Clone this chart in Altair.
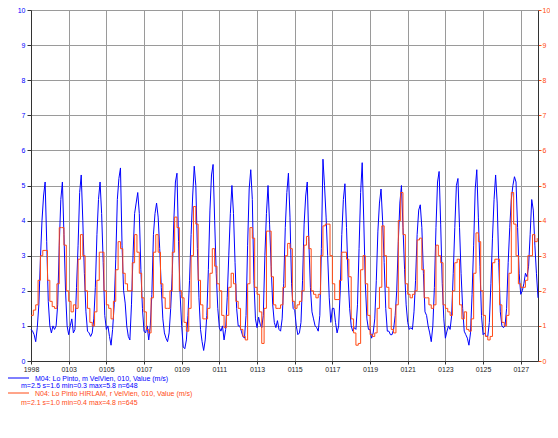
import altair as alt
import pandas as pd

# ---- observed series (blue: 2-hourly, orange: 3-hourly), one list per day ----
BLUE_DAYS = [
    [0.9, 0.85, 0.75, 0.55, 0.95, 1.6, 2.9, 4.0, 4.7, 5.1, 3.4, 1.7],
    [1.0, 0.8, 1.0, 0.9, 1.0, 1.6, 3.3, 4.6, 5.1, 3.6, 2.0, 1.0],
    [0.75, 1.0, 1.2, 0.8, 0.9, 2.1, 3.3, 4.8, 5.3, 4.0, 2.5, 1.4],
    [0.85, 0.8, 0.7, 0.8, 1.2, 2.1, 3.6, 4.6, 5.1, 4.2, 2.8, 1.3],
    [0.9, 1.0, 0.7, 0.45, 0.9, 1.6, 2.9, 4.6, 5.2, 5.5, 3.3, 2.0],
    [1.65, 1.0, 0.7, 0.6, 1.6, 3.0, 4.2, 4.5, 4.8, 4.2, 2.6, 1.5],
    [0.85, 0.8, 1.0, 0.6, 1.0, 1.9, 3.6, 4.2, 4.5, 4.1, 3.2, 2.1],
    [1.2, 0.8, 0.65, 0.55, 0.8, 1.5, 2.5, 4.0, 5.1, 5.35, 3.4, 1.9],
    [1.0, 0.4, 0.35, 0.6, 1.3, 2.3, 3.6, 4.7, 5.55, 5.0, 3.2, 1.8],
    [0.9, 0.55, 0.3, 0.6, 1.3, 2.6, 4.3, 5.3, 5.6, 4.0, 2.5, 1.5],
    [0.95, 0.85, 1.0, 0.6, 0.9, 1.8, 3.0, 4.2, 5.0, 4.2, 2.8, 1.5],
    [1.0, 1.0, 0.85, 0.7, 0.65, 1.3, 3.3, 4.9, 5.45, 4.6, 2.3, 1.2],
    [0.95, 1.25, 1.05, 0.95, 1.3, 3.0, 4.2, 5.0, 3.9, 2.7, 1.6, 1.1],
    [0.95, 1.15, 0.9, 0.85, 1.2, 2.2, 3.8, 4.8, 5.35, 4.1, 2.2, 1.5],
    [1.45, 1.0, 0.75, 0.8, 1.1, 2.3, 3.9, 4.7, 5.1, 3.4, 2.1, 1.4],
    [1.2, 1.0, 0.95, 0.85, 1.3, 3.2, 5.75, 5.0, 4.1, 3.0, 1.8, 1.1],
    [1.5, 1.5, 1.1, 0.8, 1.0, 2.0, 3.6, 4.6, 5.05, 3.8, 2.4, 1.5],
    [1.0, 0.85, 0.95, 0.9, 1.6, 3.2, 4.8, 5.65, 4.0, 2.2, 1.2, 0.9],
    [0.9, 0.65, 0.8, 1.2, 2.3, 3.7, 4.5, 4.9, 4.0, 2.8, 1.5, 0.85],
    [0.85, 0.75, 0.75, 0.9, 1.3, 2.0, 3.4, 4.5, 5.0, 3.8, 2.6, 1.6],
    [1.1, 0.9, 0.95, 0.9, 1.4, 2.3, 3.6, 4.3, 4.45, 3.8, 2.5, 1.4],
    [1.3, 1.0, 0.8, 0.55, 1.0, 2.1, 3.8, 5.1, 5.4, 3.9, 2.2, 1.2],
    [0.65, 0.85, 1.0, 0.9, 1.3, 2.5, 3.8, 5.0, 5.2, 3.8, 2.5, 1.5],
    [0.85, 0.75, 0.65, 0.45, 0.8, 1.9, 3.3, 4.9, 5.45, 4.1, 2.7, 1.3],
    [0.75, 0.8, 0.7, 0.7, 1.1, 2.2, 3.5, 4.6, 5.3, 4.5, 2.8, 1.4],
    [1.0, 0.95, 1.0, 1.5, 2.8, 3.8, 4.6, 5.0, 5.25, 5.1, 3.8, 2.5],
    [1.9, 2.0, 2.2, 2.5, 2.4, 2.7, 3.6, 4.6, 4.3, 3.3, 2.5, 1.8],
]

ORANGE_DAYS = [
    [1.3, 1.45, 1.6, 2.3, 3.0, 3.15, 3.15, 2.3],
    [1.7, 1.55, 1.5, 2.2, 3.8, 3.8, 3.3, 2.0],
    [1.7, 1.4, 1.6, 1.5, 2.9, 3.6, 3.0, 2.0],
    [1.5, 1.1, 1.0, 1.4, 2.3, 3.1, 3.1, 2.0],
    [1.6, 1.5, 1.2, 1.7, 2.6, 3.4, 3.2, 2.5],
    [2.2, 2.0, 2.0, 2.8, 3.6, 3.1, 2.5, 1.8],
    [1.4, 0.9, 0.8, 1.8, 3.1, 3.6, 3.1, 2.2],
    [1.8, 1.5, 1.5, 2.0, 3.1, 4.1, 3.8, 2.0],
    [1.8, 1.1, 0.85, 1.5, 3.0, 4.4, 3.9, 2.3],
    [1.6, 1.2, 1.2, 1.5, 2.5, 3.2, 2.7, 2.2],
    [2.0, 1.3, 0.95, 1.3, 2.1, 2.5, 2.2, 1.7],
    [1.5, 0.9, 0.7, 0.6, 2.2, 3.8, 3.5, 2.1],
    [1.9, 1.4, 0.5, 1.5, 3.7, 3.7, 2.4, 1.6],
    [1.5, 1.5, 1.6, 2.1, 3.0, 3.35, 3.2, 1.7],
    [1.5, 1.6, 1.7, 2.0, 3.3, 3.55, 3.2, 2.0],
    [1.9, 1.8, 1.9, 3.0, 3.85, 3.9, 3.9, 3.0],
    [2.2, 1.75, 1.75, 2.3, 3.1, 3.1, 2.9, 2.4],
    [1.2, 0.8, 0.45, 0.5, 2.6, 3.0, 2.2, 1.3],
    [0.75, 0.7, 0.8, 1.5, 2.1, 3.85, 3.0, 2.1],
    [1.5, 0.9, 0.8, 1.6, 4.0, 4.8, 3.6, 2.2],
    [1.9, 1.8, 1.9, 2.0, 3.45, 3.5, 2.6, 1.8],
    [1.8, 1.6, 1.5, 1.6, 3.3, 3.0, 2.8, 1.6],
    [1.5, 1.4, 1.3, 2.0, 2.8, 2.9, 1.6, 1.2],
    [1.4, 0.9, 0.85, 1.2, 2.5, 3.65, 3.4, 2.0],
    [1.3, 0.7, 0.6, 0.7, 2.8, 2.9, 2.9, 1.6],
    [1.1, 1.0, 1.3, 2.5, 4.8, 3.9, 3.0, 2.2],
    [2.1, 2.1, 2.3, 3.0, 3.0, 3.6, 3.4, 3.5],
]

XTICK_HOURS = [0, 48, 96, 144, 192, 240, 288, 336, 384, 432, 480, 528, 576, 624]
XTICK_LABELS = ["1998", "0103", "0105", "0107", "0109", "0111", "0113",
                "0115", "0117", "0119", "0121", "0123", "0125", "0127"]
Y_TICKS = [0, 1, 2, 3, 4, 5, 6, 7, 8, 9, 10]

LEGEND_BLUE = "M04: Lo Pinto, m VelVien, 010, Value (m/s)"
STATS_BLUE = "m=2.5 s=1.6 min=0.3 max=5.8 n=648"
LEGEND_ORANGE = "N04: Lo Pinto HIRLAM, r VelVien, 010, Value (m/s)"
STATS_ORANGE = "m=2.1 s=1.0 min=0.4 max=4.8 n=645"

BLUE = "#0000ff"
ORANGE = "#ff4a14"
FONT = "Liberation Sans"

blue_vals = [v for day in BLUE_DAYS for v in day]
orange_vals = [v for day in ORANGE_DAYS for v in day]
blue_df = pd.DataFrame({"h": list(range(0, 2 * len(blue_vals), 2)), "v": blue_vals})
orange_df = pd.DataFrame({"h": list(range(0, 3 * len(orange_vals), 3)), "v": orange_vals})

x_scale = alt.Scale(domain=[0, 646], nice=False, zero=False)
y_scale = alt.Scale(domain=[0, 10], nice=False)

label_expr = "[" + ",".join(f"'{l}'" for l in XTICK_LABELS) + "][round(datum.value/48)]"

x_axis = alt.Axis(values=XTICK_HOURS, labelExpr=label_expr, grid=True, gridColor="#9a9a9a",
                  gridWidth=1, domainColor="#333333", tickColor="#333333", tickSize=3,
                  labelColor="#222222", labelFont=FONT, labelFontSize=7, labelPadding=1,
                  labelFlush=False, title=None)
left_axis = alt.Axis(values=Y_TICKS, orient="left", grid=True, gridColor="#9a9a9a", gridWidth=1,
                     domainColor="#333333", tickColor="#333333", tickSize=4,
                     labelColor=BLUE, labelFont=FONT, labelFontSize=7, labelPadding=2, title=None)
right_axis = alt.Axis(values=Y_TICKS, orient="right", grid=False,
                      domainColor="#333333", tickColor=ORANGE, tickSize=3,
                      labelColor=ORANGE, labelFont=FONT, labelFontSize=7, labelPadding=1, title=None)

blue_line = alt.Chart(blue_df).mark_line(color=BLUE, strokeWidth=1).encode(
    x=alt.X("h:Q", scale=x_scale, axis=x_axis),
    y=alt.Y("v:Q", scale=y_scale, axis=left_axis),
)
orange_line = alt.Chart(orange_df).mark_line(color=ORANGE, strokeWidth=1, interpolate="step-after").encode(
    x=alt.X("h:Q", scale=x_scale, axis=x_axis),
    y=alt.Y("v:Q", scale=y_scale, axis=right_axis),
)

base = alt.Chart(pd.DataFrame({"a": [0]}))
leg_blue_line = base.mark_rule(color=BLUE, strokeWidth=1).encode(
    x=alt.value(-23), x2=alt.value(-2), y=alt.value(368))
leg_blue_text = base.mark_text(text=LEGEND_BLUE, align="left", baseline="middle",
                               font=FONT, fontSize=7, color=BLUE).encode(
    x=alt.value(4), y=alt.value(369))
leg_blue_stats = base.mark_text(text=STATS_BLUE, align="left", baseline="middle",
                                font=FONT, fontSize=7, color=BLUE).encode(
    x=alt.value(-10), y=alt.value(376))
leg_or_line = base.mark_rule(color=ORANGE, strokeWidth=1).encode(
    x=alt.value(-23), x2=alt.value(-2), y=alt.value(383))
leg_or_text = base.mark_text(text=LEGEND_ORANGE, align="left", baseline="middle",
                             font=FONT, fontSize=7, color=ORANGE).encode(
    x=alt.value(4), y=alt.value(384))
leg_or_stats = base.mark_text(text=STATS_ORANGE, align="left", baseline="middle",
                              font=FONT, fontSize=7, color=ORANGE).encode(
    x=alt.value(-10), y=alt.value(393))

chart = alt.layer(
    blue_line, orange_line,
    leg_blue_line, leg_blue_text, leg_blue_stats,
    leg_or_line, leg_or_text, leg_or_stats,
).resolve_scale(y="independent").properties(
    width=507, height=351,
    autosize=alt.AutoSizeParams(type="none"),
    padding={"left": 23, "top": 2, "right": 12, "bottom": 60},
).configure_view(strokeWidth=0).configure(font=FONT, background="white")

chart.save("out.html", embed_options={"renderer": "svg", "actions": False})
